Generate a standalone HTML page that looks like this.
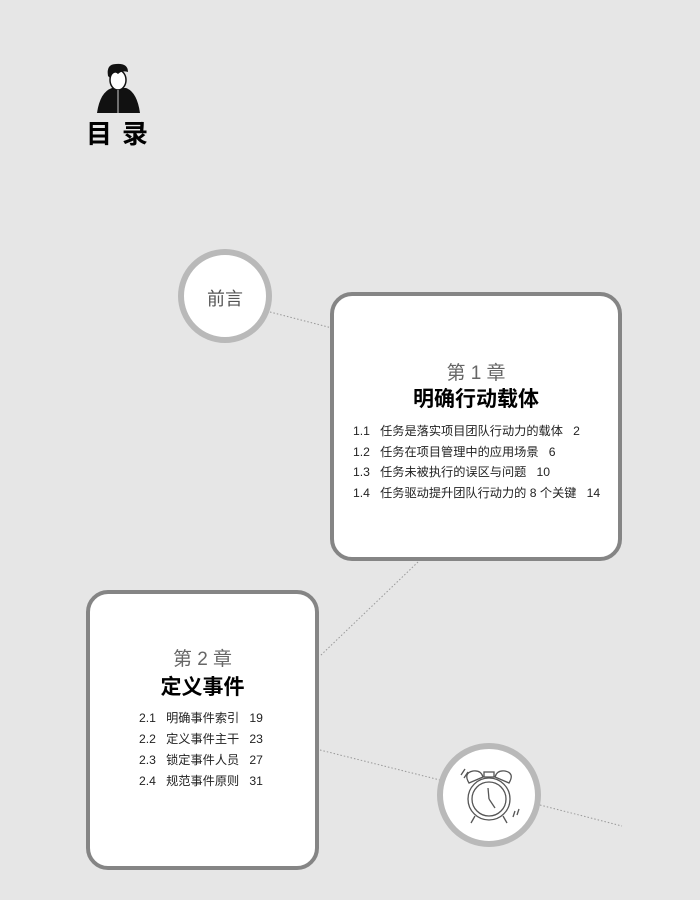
<!DOCTYPE html>
<html><head><meta charset="utf-8"><style>
body{margin:0;width:700px;height:900px;background:#e6e6e6;position:relative;overflow:hidden;font-family:"Liberation Sans","Noto Sans CJK SC",sans-serif;}
.abs{position:absolute;}
.card{position:absolute;background:#fff;border:4px solid #858585;border-radius:22px;box-sizing:border-box;}
.circ{position:absolute;background:#fff;border:6px solid #b9b9b9;border-radius:50%;box-sizing:border-box;}
.ch{position:absolute;left:0;right:0;text-align:center;color:#666;font-size:19px;}
.tt{position:absolute;left:0;right:0;text-align:center;color:#000;font-size:21px;font-weight:bold;}
.it{position:absolute;font-size:12.2px;color:#222;white-space:pre;}
</style></head><body>
<svg class="abs" style="left:0;top:0" width="700" height="900">
<g stroke="#999" stroke-width="1" stroke-dasharray="1.5 2" fill="none">
<line x1="270" y1="312" x2="332" y2="328"/>
<line x1="418" y1="562" x2="320" y2="656"/>
<line x1="320" y1="750" x2="440" y2="780"/>
<line x1="540" y1="805" x2="622" y2="826"/>
</g>
<g>
<path d="M97 113 Q100 92 112 88 L126 88 Q137 92 140 113 Z" fill="#111"/>
<ellipse cx="118" cy="80" rx="8" ry="10" fill="#fff" stroke="#111" stroke-width="1.5"/>
<path d="M108 76 Q106 64 116 64 Q128 63 128 72 Q122 70 118 74 Q114 70 110 78 Z" fill="#111"/>
<line x1="118" y1="90" x2="118" y2="113" stroke="#fff" stroke-width="0.8"/>
</g>
</svg>
<div class="abs" style="left:86px;top:114px;font-size:26px;font-weight:bold;letter-spacing:10px;color:#000;">目录</div>

<div class="circ" style="left:178px;top:249px;width:94px;height:94px;"></div>
<div class="abs" style="left:178px;top:285px;width:94px;text-align:center;font-size:18px;color:#555;">前言</div>

<div class="card" style="left:330px;top:292px;width:292px;height:269px;">
<div class="ch" style="top:62px;">第 1 章</div>
<div class="tt" style="top:87px;">明确行动载体</div>
<div class="it" style="left:19px;top:125px;">1.1   任务是落实项目团队行动力的载体   2</div>
<div class="it" style="left:19px;top:145.5px;">1.2   任务在项目管理中的应用场景   6</div>
<div class="it" style="left:19px;top:166px;">1.3   任务未被执行的误区与问题   10</div>
<div class="it" style="left:19px;top:186.5px;">1.4   任务驱动提升团队行动力的 8 个关键   14</div>
</div>

<div class="card" style="left:86px;top:590px;width:233px;height:280px;">
<div class="ch" style="top:50px;">第 2 章</div>
<div class="tt" style="top:77px;">定义事件</div>
<div class="it" style="left:49px;top:114px;">2.1   明确事件索引   19</div>
<div class="it" style="left:49px;top:135px;">2.2   定义事件主干   23</div>
<div class="it" style="left:49px;top:156px;">2.3   锁定事件人员   27</div>
<div class="it" style="left:49px;top:177px;">2.4   规范事件原则   31</div>
</div>

<div class="circ" style="left:437px;top:743px;width:104px;height:104px;"></div>
<svg class="abs" style="left:437px;top:743px" width="104" height="104">
<g fill="none" stroke="#555" stroke-width="1.3">
<circle cx="52" cy="56" r="21"/>
<circle cx="52" cy="56" r="17"/>
<path d="M32 40 Q26 30 36 28 Q44 27 46 34 Z"/>
<path d="M72 40 Q78 30 68 28 Q60 27 58 34 Z"/>
<rect x="47" y="29" width="10" height="5"/>
<line x1="52" y1="56" x2="51" y2="45"/>
<line x1="52" y1="56" x2="58" y2="65"/>
<line x1="38" y1="73" x2="34" y2="80"/>
<line x1="66" y1="73" x2="70" y2="80"/>
<path d="M24 32 L28 26 M27 35 L31 29"/>
<path d="M78 68 L76 74 M82 66 L80 72"/>
</g>
</svg>
</body></html>
